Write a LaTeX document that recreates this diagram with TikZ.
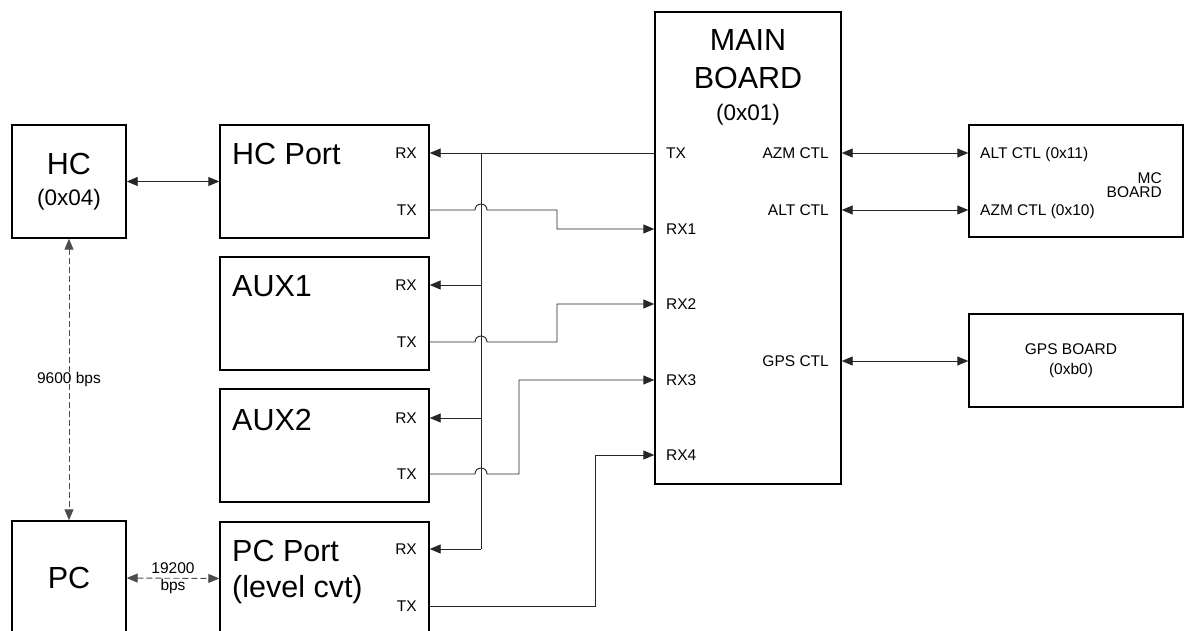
\documentclass[tikz,border=0pt]{standalone}
\usepackage{fontspec}
\setmainfont{Liberation Sans}
\usetikzlibrary{arrows.meta,positioning,calc}

\begin{document}
\begin{tikzpicture}[
    x=1pt, y=-1pt,
    >={Triangle[length=11pt,width=9pt]},
    box/.style={draw, line width=1.4pt, inner sep=0pt},
    wire/.style={line width=0.9pt, draw=black!85},
    dwire/.style={<->, line width=0.9pt, draw=black!70, dash pattern=on 6pt off 3pt},
    bigtxt/.style={inner sep=0pt, font=\fontsize{30.5}{38}\selectfont},
    smalltxt/.style={inner sep=0pt, font=\fontsize{15.5}{19}\selectfont},
    rxtx/.style={smalltxt, anchor=east, text height=11.1pt, text depth=0pt},
    portlbl/.style={smalltxt, anchor=west, text height=11.1pt, text depth=0pt}
]
  \useasboundingbox (0,0) rectangle (1184,631);
  \clip (0,0) rectangle (1184,631);

  % boxes
  \node[box, minimum width=114pt, minimum height=113pt] (hc) at (69,181.5) {};
  \node[box, minimum width=209pt, minimum height=113pt] (hcport) at (324.5,181.5) {};
  \node[box, minimum width=209pt, minimum height=113pt] (aux1) at (324.5,313.5) {};
  \node[box, minimum width=209pt, minimum height=113pt] (aux2) at (324.5,445.5) {};
  \node[box, minimum width=209pt, minimum height=113pt] (pcport) at (324.5,578.5) {};
  \node[box, minimum width=114pt, minimum height=114pt] (pc) at (69,578) {};
  \node[box, minimum width=186pt, minimum height=472pt] (mainb) at (748,248) {};
  \node[box, minimum width=214pt, minimum height=112pt] (mcb) at (1076,181) {};
  \node[box, minimum width=214pt, minimum height=93pt] (gpsb) at (1076,360.5) {};

  % titles
  \node[bigtxt, align=center] (hct) at (hc) {HC\\[-7pt]{\fontsize{22.5}{27}\selectfont (0x04)}};
  \node[bigtxt] (pct) at (pc) {PC};
  \node[bigtxt, anchor=base west] (hcportt) at (232,165) {HC Port};
  \node[bigtxt, anchor=base west] (aux1t) at (232,297) {AUX1};
  \node[bigtxt, anchor=base west] (aux2t) at (232,430) {AUX2};
  \node[bigtxt, align=left, anchor=north west, font=\fontsize{30.5}{36}\selectfont] (pcportt) at (232,540) {PC Port\\(level cvt)};
  \node[bigtxt, align=center, anchor=north] (maint) at (748,29) {MAIN\\BOARD\\[-6pt]{\fontsize{22.5}{27}\selectfont (0x01)}};
  \node[smalltxt, align=right, anchor=north east, font=\fontsize{15.5}{14}\selectfont] (mct) at (1162,172) {MC\\BOARD};
  \node[smalltxt, align=center, font=\fontsize{15.5}{20}\selectfont] (gpst) at (1071,361) {GPS BOARD\\(0xb0)};

  % port labels
  \node[rxtx] (hcrx) at (417,153) {RX};
  \node[rxtx] (hctx) at (417,210) {TX};
  \node[rxtx] (aux1rx) at (417,285) {RX};
  \node[rxtx] (aux1tx) at (417,342) {TX};
  \node[rxtx] (aux2rx) at (417,418) {RX};
  \node[rxtx] (aux2tx) at (417,474) {TX};
  \node[rxtx] (pcrx) at (417,549) {RX};
  \node[rxtx] (pctx) at (417,606) {TX};

  \node[portlbl] (mtx) at (666,153) {TX};
  \node[portlbl] (rx1) at (666,229) {RX1};
  \node[portlbl] (rx2) at (666,304) {RX2};
  \node[portlbl] (rx3) at (666,380) {RX3};
  \node[portlbl] (rx4) at (666,455) {RX4};
  \node[rxtx] (azm) at (829,153) {AZM CTL};
  \node[rxtx] (alt) at (829,210) {ALT CTL};
  \node[rxtx] (gps) at (829,361) {GPS CTL};
  \node[portlbl] (mcalt) at (980,153) {ALT CTL (0x11)};
  \node[portlbl] (mcazm) at (980,210) {AZM CTL (0x10)};

  % main TX fanned out on the bus
  \coordinate (bus) at (481,153);
  \draw[wire, ->] (mainb.west |- mtx) -- (hcport.east |- hcrx);
  \draw[wire] (bus) -- (bus |- pcrx);
  \draw[wire, ->] (bus |- aux1rx) -- (aux1.east |- aux1rx);
  \draw[wire, ->] (bus |- aux2rx) -- (aux2.east |- aux2rx);
  \draw[wire, ->] (bus |- pcrx) -- (pcport.east |- pcrx);

  % TX lines, hopping over the bus
  \draw[wire, ->] (hcport.east |- hctx) -- ($(bus |- hctx)+(-6,0)$)
    arc[start angle=180, end angle=360, radius=6] -- ++(70,0) |- (mainb.west |- rx1);
  \draw[wire, ->] (aux1.east |- aux1tx) -- ($(bus |- aux1tx)+(-6,0)$)
    arc[start angle=180, end angle=360, radius=6] -- ++(70,0) |- (mainb.west |- rx2);
  \draw[wire, ->] (aux2.east |- aux2tx) -- ($(bus |- aux2tx)+(-6,0)$)
    arc[start angle=180, end angle=360, radius=6] -- ++(32,0) |- (mainb.west |- rx3);
  \draw[wire, ->] (pcport.east |- pctx) -- ++(166,0) |- (mainb.west |- rx4);

  % boards on the right
  \draw[wire, <->] (mainb.east |- azm) -- (mcb.west |- mcalt);
  \draw[wire, <->] (mainb.east |- alt) -- (mcb.west |- mcazm);
  \draw[wire, <->] (mainb.east |- gps) -- (gpsb.west |- gps);

  % host links
  \draw[wire, <->] (hc.east) -- (hcport.west);
  \draw[dwire] (pc.east) -- node[smalltxt, align=center, font=\fontsize{15.5}{17}\selectfont] (pcbps) {19200\\bps} (pcport.west);
  \draw[dwire] (hc.south) -- node[smalltxt] (hcbps) {9600 bps} (pc.north);
\end{tikzpicture}
\end{document}
